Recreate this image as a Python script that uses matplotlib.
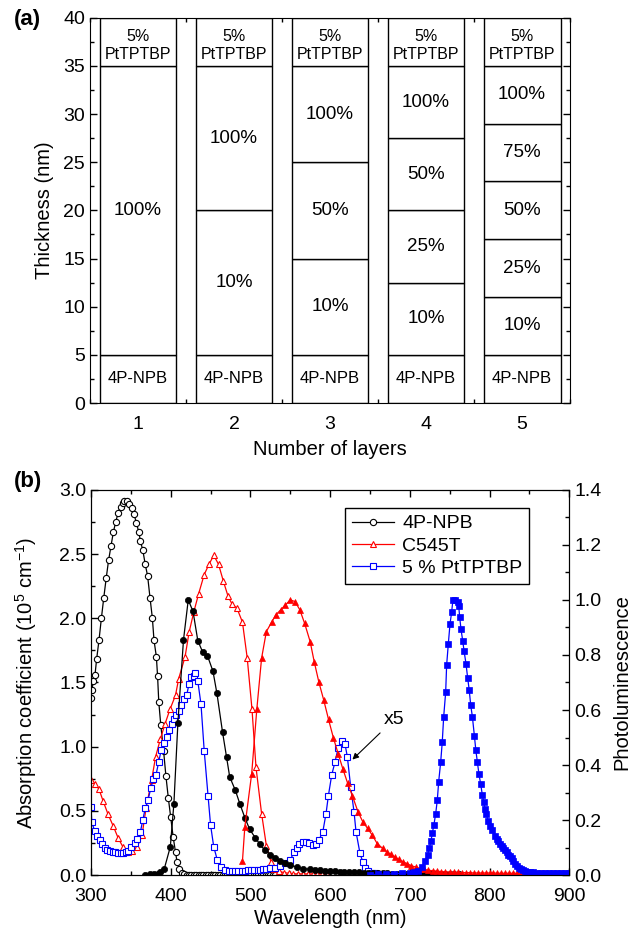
import matplotlib
matplotlib.use('Agg')
import matplotlib.pyplot as plt
from matplotlib.ticker import MultipleLocator, FormatStrFormatter

plt.rcParams['font.family'] = ['Liberation Sans', 'DejaVu Sans']
plt.rcParams['mathtext.default'] = 'regular'

# ---- panel (a): device layer stacks ----
n_layers = [1, 2, 3, 4, 5]
bounds_1 = [0, 5, 35, 40]
bounds_2 = [0, 5, 20, 35, 40]
bounds_3 = [0, 5, 15, 25, 35, 40]
bounds_4 = [0, 5, 12.5, 20, 27.5, 35, 40]
bounds_5 = [0, 5, 11, 17, 23, 29, 35, 40]
labels_1 = ['4P-NPB', '100%', '5%\nPtTPTBP']
labels_2 = ['4P-NPB', '10%', '100%', '5%\nPtTPTBP']
labels_3 = ['4P-NPB', '10%', '50%', '100%', '5%\nPtTPTBP']
labels_4 = ['4P-NPB', '10%', '25%', '50%', '100%', '5%\nPtTPTBP']
labels_5 = ['4P-NPB', '10%', '25%', '50%', '75%', '100%', '5%\nPtTPTBP']

# ---- panel (b): spectra ----
# 4P-NPB absorption (left axis)
npb_abs_wl = [300, 301, 303, 305, 307, 310, 313, 316, 319, 322, 325, 328, 331, 334, 337, 340,
              342, 345, 348, 351, 354, 357, 360, 362, 365, 368, 371, 374, 377, 379, 382, 383.5,
              385, 387.5, 391, 394, 397, 400, 403, 406, 408, 411, 414, 417, 420, 423, 426, 429,
              432, 435, 438, 441, 444, 447, 450, 453, 456, 459, 462, 465, 468, 471, 474, 477,
              480, 483, 486, 489, 492, 495, 498, 501, 504, 507, 510, 513, 516, 519, 522, 525, 528, 531]
npb_abs = [1.38, 1.44, 1.51, 1.56, 1.68, 1.83, 2.00, 2.16, 2.31, 2.45, 2.56, 2.67, 2.75, 2.82, 2.87, 2.90,
           2.91, 2.91, 2.89, 2.86, 2.81, 2.74, 2.67, 2.60, 2.53, 2.42, 2.33, 2.16, 2.00, 1.83, 1.70, 1.55,
           1.35, 1.17, 0.97, 0.77, 0.60, 0.45, 0.30, 0.18, 0.10, 0.05, 0.02, 0.01, 0.005, 0.005, 0.005, 0.005,
           0.005, 0.005, 0.005, 0.005, 0.005, 0.005, 0.005, 0.005, 0.005, 0.005, 0.005, 0.005, 0.005, 0.005, 0.005, 0.005,
           0.005, 0.005, 0.005, 0.005, 0.005, 0.005, 0.005, 0.005, 0.005, 0.005, 0.005, 0.005, 0.005, 0.005, 0.005, 0.005, 0.005, 0.005]

# 4P-NPB photoluminescence (right axis)
npb_pl_wl = [368, 374, 379, 384, 387, 392, 399.5, 404, 409, 416, 422, 428, 434, 440, 446, 453,
             458, 465, 470, 474, 481, 487, 493, 499, 506, 512, 518, 525, 531, 537, 543, 550,
             558, 566, 575, 581, 587, 593, 600, 606, 612, 618, 624, 630, 636, 642, 648, 654,
             660, 666, 672, 678, 684, 690, 696, 702, 708, 714, 720, 726, 732, 738, 744, 750, 756, 762]
npb_pl = [0.002, 0.003, 0.004, 0.006, 0.010, 0.024, 0.103, 0.26, 0.553, 0.854, 1.0, 0.958, 0.852, 0.811, 0.798, 0.741,
          0.66, 0.52, 0.43, 0.357, 0.309, 0.257, 0.209, 0.167, 0.136, 0.112, 0.091, 0.075, 0.063, 0.052, 0.045, 0.036,
          0.030, 0.024, 0.021, 0.019, 0.017, 0.016, 0.015, 0.014, 0.013, 0.012, 0.011, 0.010, 0.010, 0.009, 0.009, 0.008,
          0.008, 0.007, 0.007, 0.006, 0.006, 0.006, 0.005, 0.005, 0.005, 0.005, 0.004, 0.004, 0.004, 0.004, 0.004, 0.004, 0.004, 0.004]

# C545T absorption (left axis)
c545_abs_wl = [300, 305, 310, 315, 321, 328, 334, 340, 346, 352, 358, 364, 369, 376, 381, 387,
               393, 399, 406, 410, 418, 423, 429, 435, 442, 448, 454, 460, 466, 472, 477, 483,
               490, 496, 502, 507, 514, 520, 526, 530, 536, 542, 548, 554, 560, 566, 572, 578, 584, 590, 596]
c545_abs = [0.74, 0.71, 0.67, 0.58, 0.48, 0.38, 0.29, 0.22, 0.18, 0.19, 0.22, 0.31, 0.52, 0.74, 0.92, 1.06,
            1.18, 1.29, 1.40, 1.53, 1.70, 1.89, 2.05, 2.19, 2.34, 2.42, 2.49, 2.42, 2.29, 2.17, 2.11, 2.08,
            1.97, 1.69, 1.29, 0.84, 0.48, 0.23, 0.10, 0.05, 0.03, 0.02, 0.015, 0.01, 0.01, 0.01, 0.01, 0.01, 0.01, 0.01, 0.01]

# C545T photoluminescence (right axis)
c545_pl_wl = [490, 493, 501.6, 508, 514, 520, 527, 532, 538, 544, 550, 556, 562, 568, 575, 580,
              586, 592, 598, 604, 610, 616, 622, 628, 635, 641, 647, 653, 659, 666, 671, 676,
              681, 686, 692, 697, 702, 708, 713, 718, 723, 729, 734, 739, 744, 750, 755, 760,
              765, 770, 775, 780, 785, 790, 795, 800, 805, 810, 815, 820, 825, 830, 835, 840,
              845, 850, 855, 860, 865, 870, 875, 880, 885, 890, 895, 900]
c545_pl = [0.051, 0.176, 0.369, 0.602, 0.788, 0.885, 0.921, 0.946, 0.964, 0.982, 1.0, 0.994, 0.964, 0.915, 0.848, 0.776,
           0.70, 0.636, 0.566, 0.50, 0.442, 0.386, 0.334, 0.288, 0.230, 0.194, 0.170, 0.145, 0.115, 0.097, 0.085, 0.076,
           0.067, 0.057, 0.048, 0.041, 0.034, 0.029, 0.024, 0.021, 0.018, 0.016, 0.015, 0.013, 0.012, 0.011, 0.010, 0.010,
           0.009, 0.009, 0.009, 0.008, 0.008, 0.008, 0.008, 0.008, 0.008, 0.007, 0.007, 0.007, 0.007, 0.007, 0.007, 0.007,
           0.007, 0.007, 0.007, 0.007, 0.007, 0.007, 0.007, 0.007, 0.007, 0.007, 0.007, 0.007]

# 5 % PtTPTBP absorption, x5 (left axis)
ptt_abs_wl = [300, 301, 304.6, 308, 311, 314, 317, 320.5, 324, 327, 330.5, 334, 337, 340.6, 344, 347,
              350.6, 355, 358, 362, 365, 368, 371.5, 375, 378, 381.5, 385, 388, 391.6, 395, 398, 401,
              404, 407, 410, 413, 417, 420, 423, 426, 429, 431, 434, 438, 442, 446.8, 450, 454,
              458.5, 462.7, 467.7, 472.7, 477, 481, 485, 489, 493, 497, 501, 505, 509, 512, 516, 520,
              524.6, 531, 537, 543, 549.7, 554.7, 558, 561, 565.6, 569.8, 574, 578, 582, 585.7, 590.7, 594.9,
              597.8, 602, 606, 610, 614.5, 618.7, 621.6, 625.8, 630, 632.5, 637.5, 641, 643.8, 648, 652, 656, 660]
ptt_abs = [0.53, 0.41, 0.345, 0.304, 0.273, 0.239, 0.213, 0.195, 0.187, 0.182, 0.177, 0.174, 0.169, 0.169, 0.177, 0.19,
           0.216, 0.247, 0.278, 0.338, 0.43, 0.52, 0.585, 0.676, 0.745, 0.78, 0.883, 0.974, 1.026, 1.078, 1.13, 1.18,
           1.216, 1.247, 1.28, 1.325, 1.369, 1.40, 1.49, 1.54, 1.55, 1.57, 1.51, 1.33, 0.97, 0.62, 0.39, 0.22,
           0.117, 0.065, 0.039, 0.035, 0.033, 0.033, 0.034, 0.035, 0.036, 0.037, 0.038, 0.039, 0.040, 0.042, 0.047, 0.050,
           0.052, 0.057, 0.072, 0.091, 0.117, 0.177, 0.213, 0.239, 0.255, 0.255, 0.247, 0.234, 0.239, 0.273, 0.333, 0.48,
           0.618, 0.78, 0.878, 0.987, 1.044, 1.02, 0.922, 0.688, 0.493, 0.338, 0.169, 0.104, 0.052, 0.031, 0.02, 0.015, 0.01]

# 5 % PtTPTBP photoluminescence (right axis)
ptt_pl_wl = [650, 660, 670, 680, 690, 700, 705, 710.7, 715.7, 719, 722.4, 724.5, 726.6, 728.2, 730.3, 732.5,
             734.5, 736.2, 738.7, 740.7, 742.5, 745, 746.2, 748.3, 750.4, 752.5, 754, 757, 760, 761.3, 762.6, 764.2,
             766.4, 768, 770.5, 772.6, 774.6, 776.4, 778.5, 781, 782.8, 784.8, 786.8, 789, 791, 792.6, 794.4, 796,
             798.5, 801, 803.6, 807, 809, 811, 813, 815.4, 817.5, 819.5, 821.5, 823.7, 826, 828, 830, 832,
             834, 836.5, 839, 841.5, 844, 847, 851, 855, 860, 865, 870, 875, 880, 885, 890, 895, 900]
ptt_pl = [0.002, 0.003, 0.004, 0.005, 0.007, 0.009, 0.011, 0.015, 0.030, 0.051, 0.075, 0.099, 0.124, 0.152, 0.184, 0.224,
          0.273, 0.339, 0.41, 0.483, 0.576, 0.665, 0.763, 0.84, 0.912, 0.956, 0.998, 0.998, 0.994, 0.979, 0.937, 0.894,
          0.851, 0.816, 0.768, 0.716, 0.671, 0.618, 0.576, 0.507, 0.455, 0.41, 0.366, 0.33, 0.291, 0.267, 0.24, 0.221,
          0.196, 0.179, 0.164, 0.143, 0.133, 0.124, 0.115, 0.107, 0.099, 0.091, 0.083, 0.075, 0.068, 0.061, 0.052, 0.042,
          0.034, 0.027, 0.021, 0.017, 0.014, 0.012, 0.011, 0.010, 0.009, 0.009, 0.009, 0.008, 0.008, 0.008, 0.008, 0.008, 0.008]

fig = plt.figure(figsize=(6.41, 9.33), dpi=100)

# ================= panel (a) =================
axa = fig.add_axes([0.1404, 0.568, 0.749, 0.413])
all_bounds = [bounds_1, bounds_2, bounds_3, bounds_4, bounds_5]
all_labels = [labels_1, labels_2, labels_3, labels_4, labels_5]
for n, bnd, lab in zip(n_layers, all_bounds, all_labels):
    for i in range(len(bnd) - 1):
        lo, hi = bnd[i], bnd[i + 1]
        axa.bar(n, hi - lo, bottom=lo, width=0.8, color='white', edgecolor='black', linewidth=1.0)
        txt = lab[i]
        if txt.startswith('5%'):
            axa.text(n, 37.1, txt, ha='center', va='center', fontsize=11.5, linespacing=1.2)
        elif txt == '4P-NPB':
            axa.text(n, 2.6, txt, ha='center', va='center', fontsize=12)
        else:
            axa.text(n, (lo + hi) / 2, txt, ha='center', va='center', fontsize=13.5)

axa.set_xlim(0.5, 5.5)
axa.set_ylim(0, 40)
axa.set_xticks(n_layers)
axa.xaxis.set_minor_locator(MultipleLocator(0.5))
axa.yaxis.set_major_locator(MultipleLocator(5))
axa.yaxis.set_minor_locator(MultipleLocator(2.5))
axa.tick_params(which='both', direction='in', top=True, right=True, labelsize=14, width=1)
axa.tick_params(which='major', length=5)
axa.tick_params(which='minor', length=3)
axa.tick_params(axis='x', which='major', length=0, pad=9)
axa.set_xlabel('Number of layers', fontsize=14.5)
axa.set_ylabel('Thickness (nm)', fontsize=14.5)
axa.yaxis.set_label_coords(-0.075, 0.5)
axa.xaxis.set_label_coords(0.5, -0.095)
fig.text(0.043, 0.979, '(a)', fontsize=16, fontweight='bold', ha='center', va='center')

# ================= panel (b) =================
axb = fig.add_axes([0.142, 0.062, 0.746, 0.413])
axr = axb.twinx()

ms = 4.5
l1, = axb.plot(npb_abs_wl, npb_abs, '-o', color='black', lw=0.9, ms=ms, mfc='white', mew=0.8, label='4P-NPB')
l2, = axb.plot(c545_abs_wl, c545_abs, '-^', color='red', lw=0.9, ms=ms + 0.5, mfc='white', mew=0.8, label='C545T')
l3, = axb.plot(ptt_abs_wl, ptt_abs, '-s', color='blue', lw=0.9, ms=ms - 0.3, mfc='white', mew=0.8, label='5 % PtTPTBP')

axr.plot(npb_pl_wl, npb_pl, '-o', color='black', lw=0.9, ms=ms, mew=0.5)
axr.plot(c545_pl_wl, c545_pl, '-^', color='red', lw=0.9, ms=ms + 0.5, mew=0.5)
axr.plot(ptt_pl_wl, ptt_pl, '-s', color='blue', lw=0.9, ms=ms - 0.3, mew=0.5)

axb.set_xlim(300, 900)
axb.set_ylim(0, 3.0)
axr.set_ylim(0, 1.4)
axb.xaxis.set_major_locator(MultipleLocator(100))
axb.xaxis.set_minor_locator(MultipleLocator(50))
axb.yaxis.set_major_locator(MultipleLocator(0.5))
axb.yaxis.set_minor_locator(MultipleLocator(0.25))
axb.yaxis.set_major_formatter(FormatStrFormatter('%.1f'))
axr.yaxis.set_major_locator(MultipleLocator(0.2))
axr.yaxis.set_minor_locator(MultipleLocator(0.1))
axr.yaxis.set_major_formatter(FormatStrFormatter('%.1f'))
axb.tick_params(which='both', direction='in', top=True, right=False, labelsize=14, width=1)
axb.tick_params(which='major', length=5)
axb.tick_params(which='minor', length=3)
axb.tick_params(axis='x', which='major', pad=9)
axr.tick_params(which='both', direction='in', labelsize=14, width=1)
axr.tick_params(which='major', length=5)
axr.tick_params(which='minor', length=3)

axb.set_xlabel('Wavelength (nm)', fontsize=14.5)
axb.set_ylabel('Absorption coefficient (10$^5$ cm$^{-1}$)', fontsize=14.5)
axr.set_ylabel('Photoluminescence', fontsize=14.5)
axb.yaxis.set_label_coords(-0.108, 0.5)
axb.xaxis.set_label_coords(0.5, -0.088)
axr.yaxis.set_label_coords(1.09, 0.5)

axb.annotate('x5', xy=(628, 0.90), xytext=(667, 1.21), fontsize=14, ha='left', va='center',
             arrowprops=dict(arrowstyle='-|>', color='black', lw=0.8, mutation_scale=9, shrinkA=2, shrinkB=0))

leg = axr.legend(handles=[l1, l2, l3], loc='upper right', bbox_to_anchor=(0.916, 0.953), fontsize=14,
                 frameon=True, fancybox=False, edgecolor='black', framealpha=1, handlelength=2.2,
                 handletextpad=0.4, borderpad=0.35, labelspacing=0.25, borderaxespad=0)
leg.get_frame().set_linewidth(1.0)

fig.text(0.043, 0.484, '(b)', fontsize=16, fontweight='bold', ha='center', va='center')

fig.savefig('out.png', dpi=100)
